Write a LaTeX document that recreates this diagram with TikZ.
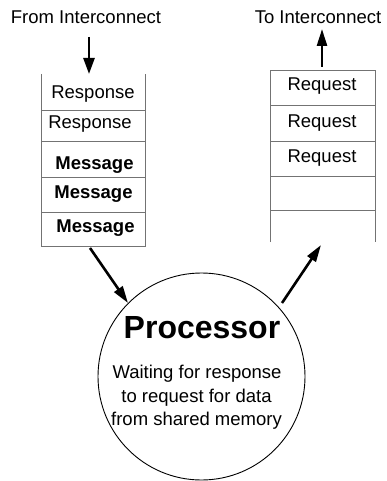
\documentclass[tikz,border=0pt]{standalone}
\usepackage{fontspec}
\setmainfont{Liberation Sans}
\usetikzlibrary{arrows.meta}
\begin{document}
\begin{tikzpicture}[x=1pt,y=-1pt,
  qline/.style={draw=black!55, line width=1pt},
  lbl/.style={inner sep=0pt, anchor=base, font=\fontsize{18.5}{22}\selectfont},
  blbl/.style={lbl, font=\fontsize{18.5}{22}\selectfont\bfseries},
  arr/.style={line width=2.6pt, -{Triangle[length=17pt,width=10pt]}},
  darr/.style={line width=2.6pt, -{Triangle[length=16pt,width=11pt]}}]
\useasboundingbox (0,0) rectangle (386,481);
% left queue
\draw[qline] (41,74) -- (41,246) -- (145,246) -- (145,74);
\foreach \y in {111,142,177,212} \draw[qline] (41,\y) -- (145,\y);
\node[lbl]  (r1) at (93,99)  {Response};
\node[lbl]  (r2) at (90,129) {Response};
\node[blbl] (m1) at (94.5,169) {Message};
\node[blbl] (m2) at (93.5,198) {Message};
\node[blbl] (m3) at (95.5,232) {Message};
% right queue
\draw[qline] (270,242) -- (270,71) -- (375,71) -- (375,242);
\foreach \y in {106,142,176,210} \draw[qline] (270,\y) -- (375,\y);
\node[lbl] (q1) at (322,91)  {Request};
\node[lbl] (q2) at (322,128) {Request};
\node[lbl] (q3) at (322,163) {Request};
% labels
\node[lbl] (from) at (86,24) {From Interconnect};
\node[lbl] (to) at (318,24) {To Interconnect};
% processor
\node[circle, draw=black, line width=0.9pt, minimum size=207pt, inner sep=0pt] (proc) at (201.5,376.5) {};
\node[inner sep=0pt, anchor=base, font=\fontsize{32}{36}\selectfont\bfseries] (ptitle) at (202,338) {Processor};
\node[lbl] (d1) at (197,378) {Waiting for response};
\node[lbl] (d2) at (196.5,402) {to request for data};
\node[lbl] (d3) at (196.5,425) {from shared memory};
% connectors
\coordinate (inA) at (89,37);
\coordinate (inB) at (89,74);
\coordinate (outA) at (322,67);
\coordinate (outB) at (322,29);
\coordinate (lqb) at (90,248);
\coordinate (rs) at (282,303);
\coordinate (rqb) at (321,245);
\draw[darr] (inA) -- (inB);
\draw[arr] (outA) -- (outB);
\draw[arr] (lqb) -- (proc.135);
\draw[arr] (rs) -- (rqb);
\end{tikzpicture}
\end{document}
